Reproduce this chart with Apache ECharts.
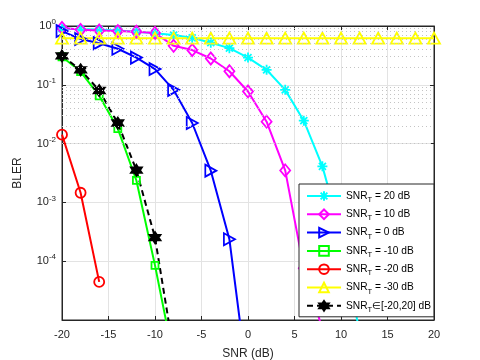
<!DOCTYPE html>
<html>
<head>
<meta charset="utf-8">
<script src="https://cdn.jsdelivr.net/npm/echarts@6/dist/echarts.min.js"></script>
<style>
  html, body { margin: 0; padding: 0; background: #fff; }
  #chart { width: 480px; height: 360px; }
</style>
</head>
<body>
<div id="chart"></div>
<script>
// SNR axis (dB), one point every 2 dB
var snr = [-20, -18, -16, -14, -12, -10, -8, -6, -4, -2, 0, 2, 4, 6, 8, 10, 12, 14, 16, 18, 20]

// BLER per training SNR (null = no point)
var bler_t20 = [0.90, 0.89, 0.87, 0.84, 0.80, 0.75, 0.70, 0.63, 0.52, 0.42, 0.29, 0.18, 0.082, 0.0245, 0.0041, 3e-4, 6e-6, null, null, null, null]
var bler_t10 = [0.93, 0.86, 0.84, 0.82, 0.80, 0.76, 0.46, 0.39, 0.28, 0.17, 0.077, 0.0236, 0.0035, 7.6e-5, 7e-6, null, null, null, null, null, null]
var bler_t0 = [0.82, 0.60, 0.51, 0.41, 0.29, 0.185, 0.082, 0.0224, 0.00346, 2.36e-4, 8e-7, null, null, null, null, null, null, null, null, null, null]
var bler_tm10 = [0.30, 0.168, 0.065, 0.018, 0.00236, 8.5e-5, 2.2e-6, null, null, null, null, null, null, null, null, null, null, null, null, null, null]
var bler_tm20 = [0.0142, 0.00146, 4.45e-5, null, null, null, null, null, null, null, null, null, null, null, null, null, null, null, null, null, null]
var bler_tm30 = [0.62, 0.62, 0.62, 0.62, 0.62, 0.62, 0.62, 0.62, 0.62, 0.62, 0.62, 0.62, 0.62, 0.62, 0.62, 0.62, 0.62, 0.62, 0.62, 0.62, 0.62]
var bler_mix = [0.31, 0.18, 0.080, 0.0224, 0.00353, 2.52e-4, 2.9e-6, null, null, null, null, null, null, null, null, null, null, null, null, null, null]

var legend_names = ['SNR_T = 20 dB', 'SNR_T = 10 dB', 'SNR_T = 0 dB', 'SNR_T = -10 dB', 'SNR_T = -20 dB', 'SNR_T = -30 dB', 'SNR_T\u2208[-20,20] dB']

var x_ticks = [-20, -15, -10, -5, 0, 5, 10, 15, 20]

function pairs(ys) {
    return snr.map(function (x, i) { return [x, ys[i]] })
}

// minor log grid positions 2..9 x 10^k
var minor_lines = []
for (var k = -5; k < 0; k++) {
    for (var m = 2; m <= 9; m++) {
        minor_lines.push({ yAxis: m * Math.pow(10, k) })
    }
}

var asterisk = 'path://M0,-10L0,10M-10,0L10,0M-7,-7L7,7M-7,7L7,-7'
var hexagram = 'path://M0,-10L2.887,-5L8.66,-5L5.774,0L8.66,5L2.887,5L0,10L-2.887,5L-8.66,5L-5.774,0L-8.66,-5L-2.887,-5Z'
var tri_right = 'path://M0,0L10,5L0,10Z'

function make_series(name, ys, color, symbol, size, filled, dashed) {
    return {
        name: name,
        type: 'line',
        data: pairs(ys),
        color: color,
        symbol: symbol,
        symbolSize: size,
        clip: true,
        lineStyle: { width: 2, color: color, type: dashed ? [6, 4] : 'solid' },
        itemStyle: {
            color: filled ? color : 'rgba(255,255,255,0)',
            borderColor: color,
            borderWidth: 1.8
        },
        emphasis: { disabled: true },
        z: 3
    }
}

var chartDom = document.getElementById('chart')
var myChart = echarts.init(chartDom)

var axis_color = '#262626'
var font = 'Liberation Sans, Arial, sans-serif'

var options = {
    animation: false,
    textStyle: { fontFamily: font },
    grid: {
        left: 62, top: 26, width: 372, height: 294,
        containLabel: false,
        outerBoundsMode: 'none',
        show: true, borderColor: axis_color, borderWidth: 1, backgroundColor: '#fff'
    },
    legend: {
        data: legend_names,
        orient: 'vertical',
        left: 299,
        top: 184,
        padding: [4, 3, 3, 7],
        itemWidth: 34,
        itemHeight: 12,
        itemGap: 2.3,
        backgroundColor: '#fff',
        borderColor: axis_color,
        borderWidth: 1,
        borderRadius: 0,
        formatter: function (name) {
            return name.replace('SNR_T', 'SNR{sub|T}')
        },
        textStyle: {
            fontSize: 10.2,
            color: '#000',
            lineHeight: 16,
            rich: {
                sub: { fontSize: 7.5, lineHeight: 8, verticalAlign: 'bottom' }
            }
        }
    },
    xAxis: [
        {
            type: 'value', min: -20, max: 20, interval: 5,
            name: 'SNR (dB)', nameLocation: 'middle', nameGap: 28,
            nameTextStyle: { fontSize: 12, color: axis_color },
            axisLine: { onZero: false, lineStyle: { color: axis_color } },
            axisTick: { inside: true, length: 4, lineStyle: { color: axis_color } },
            axisLabel: { fontSize: 11, color: axis_color, margin: 9,
                formatter: function (v) { return x_ticks.indexOf(v) >= 0 ? String(v) : '' } },
            splitLine: { show: true, lineStyle: { color: '#e3e3e3', width: 1 } }
        },
        {
            type: 'value', min: -20, max: 20, interval: 5, position: 'top',
            axisLine: { onZero: false, lineStyle: { color: axis_color } },
            axisTick: { inside: true, length: 4, lineStyle: { color: axis_color } },
            axisLabel: { show: false },
            splitLine: { show: false }
        }
    ],
    yAxis: [
        {
            type: 'log', logBase: 10, min: 1e-5, max: 1,
            name: 'BLER', nameLocation: 'middle', nameGap: 38,
            nameTextStyle: { fontSize: 12, color: axis_color },
            axisLine: { onZero: false, lineStyle: { color: axis_color } },
            axisTick: { inside: true, length: 4, lineStyle: { color: axis_color } },
            axisLabel: {
                fontSize: 11, color: axis_color, margin: 6,
                formatter: function (v) {
                    var e = Math.round(Math.log10(v))
                    if (e <= -5) return ''
                    return '{b|10}{sup|' + e + '}'
                },
                rich: {
                    b: { fontSize: 11, color: axis_color, lineHeight: 16 },
                    sup: { fontSize: 8, color: axis_color, lineHeight: 8, verticalAlign: 'top' }
                }
            },
            splitLine: { show: true, lineStyle: { color: '#e3e3e3', width: 1 } }
        },
        {
            type: 'log', logBase: 10, min: 1e-5, max: 1, position: 'right',
            axisLine: { onZero: false, lineStyle: { color: axis_color } },
            axisTick: { inside: true, length: 4, lineStyle: { color: axis_color } },
            axisLabel: { show: false },
            splitLine: { show: false }
        }
    ],
    series: [
        {
            name: 'minor-grid',
            type: 'line',
            data: pairs(bler_tm30),
            symbol: 'none',
            lineStyle: { opacity: 0 },
            silent: true,
            z: 1,
            markLine: {
                silent: true,
                symbol: 'none',
                label: { show: false },
                animation: false,
                lineStyle: { type: [1, 3], color: '#c4c4c4', width: 1 },
                data: minor_lines
            }
        },
        make_series(legend_names[0], bler_t20, '#00ffff', asterisk, 10, false, false),
        make_series(legend_names[1], bler_t10, '#ff00ff', 'diamond', [10, 12], false, false),
        make_series(legend_names[2], bler_t0, '#0000ff', tri_right, [11, 12], false, false),
        make_series(legend_names[3], bler_tm10, '#00ff00', 'rect', 7, false, false),
        make_series(legend_names[4], bler_tm20, '#ff0000', 'circle', 10, false, false),
        make_series(legend_names[5], bler_tm30, '#ffff00', 'triangle', [12, 11], false, false),
        make_series(legend_names[6], bler_mix, '#000000', hexagram, 11, true, true)
    ]
}
myChart.setOption(options)
</script>
</body>
</html>
